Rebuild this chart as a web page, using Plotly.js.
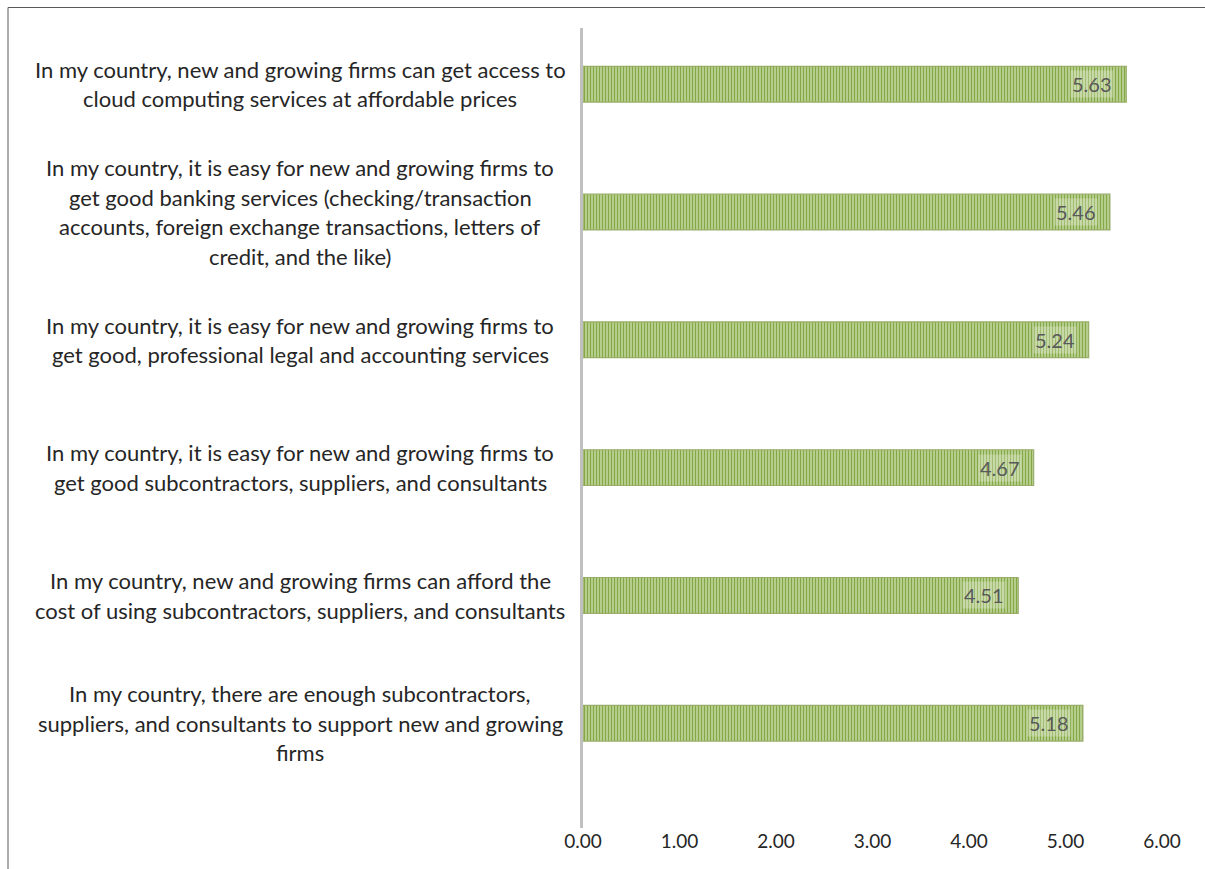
<!DOCTYPE html>
<html>
<head>
<meta charset="utf-8">
<script src="https://cdn.plot.ly/plotly-3.0.1.min.js"></script>
<style>html,body{margin:0;padding:0;background:#fff;}#chart{width:1205px;height:869px;}</style>
</head>
<body>
<div id="chart"></div>
<script>
// Data listed bottom-to-top
const categories = [
  "In my country, there are enough subcontractors,\nsuppliers, and consultants to support new and growing\nfirms",
  "In my country, new and growing firms can afford the\ncost of using subcontractors, suppliers, and consultants",
  "In my country, it is easy for new and growing firms to\nget good subcontractors, suppliers, and consultants",
  "In my country, it is easy for new and growing firms to\nget good, professional legal and accounting services",
  "In my country, it is easy for new and growing firms to\nget good banking services (checking/transaction\naccounts, foreign exchange transactions, letters of\ncredit, and the like)",
  "In my country, new and growing firms can get access to\ncloud computing services at affordable prices"
];
const values = [5.18, 4.51, 4.67, 5.24, 5.46, 5.63];
const valueLabels = ["5.18", "4.51", "4.67", "5.24", "5.46", "5.63"];
const xTickVals = [0, 1, 2, 3, 4, 5, 6];
const xTickText = ["0.00", "1.00", "2.00", "3.00", "4.00", "5.00", "6.00"];

const FONT = "Lato, 'Open Sans', sans-serif";
const yIdx = categories.map((c, i) => i);

const trace = {
  type: "bar",
  orientation: "h",
  x: values,
  y: yIdx,
  width: 0.28,
  marker: {
    color: "#d0e1b2",
    line: {color: "#98ad6a", width: 1.2},
    pattern: {shape: "|", fgcolor: "#84a843", bgcolor: "#d6e5bd", size: 3, solidity: 0.6}
  },
  hoverinfo: "skip"
};

const annotations = [];
const LINE = 29.5;
const LABEL_X = (300 - 583) / 579;
categories.forEach((c, i) => {
  const lines = c.split("\n");
  const n = lines.length;
  lines.forEach((ln, k) => {
    annotations.push({
      xref: "paper", yref: "y", x: LABEL_X, y: i,
      xanchor: "center", yanchor: "middle",
      yshift: ((n - 1) / 2 - k) * LINE,
      text: ln, showarrow: false,
      font: {family: FONT, size: 22, color: "#262626"}
    });
  });
});
values.forEach((v, i) => {
  annotations.push({
    xref: "x", yref: "y", x: v, y: i,
    xanchor: "right", yanchor: "middle", xshift: -12,
    text: valueLabels[i], showarrow: false,
    bgcolor: "rgba(255,255,255,0.25)",
    font: {family: FONT, size: 20, color: "#595959"}
  });
});

const L = 583, R = 43, T = 28, B = 41;
const W = 1205 - L - R, H = 869 - T - B;
const px = p => (p - L) / W;
const py = p => (869 - B - p) / H;

const layout = {
  width: 1205, height: 869,
  margin: {l: L, r: R, t: T, b: B},
  paper_bgcolor: "#ffffff", plot_bgcolor: "#ffffff",
  showlegend: false,
  xaxis: {
    range: [0, 6], tickvals: xTickVals, ticktext: xTickText,
    showgrid: false, zeroline: false, showline: false, ticks: "",
    tickfont: {family: FONT, size: 19, color: "#262626"}
  },
  yaxis: {
    range: [-0.82, 5.44], showticklabels: false, showgrid: false, zeroline: false,
    showline: true, linecolor: "#c0c0c0", linewidth: 3, ticks: ""
  },
  annotations: annotations,
  shapes: [{
    type: "path", xref: "paper", yref: "paper",
    path: `M ${px(8)} ${py(869)} L ${px(8)} ${py(7.5)} L ${px(1205)} ${py(7.5)}`,
    line: {color: "#595959", width: 1}
  }]
};

Plotly.newPlot("chart", [trace], layout, {displayModeBar: false, staticPlot: true});
</script>
</body>
</html>
